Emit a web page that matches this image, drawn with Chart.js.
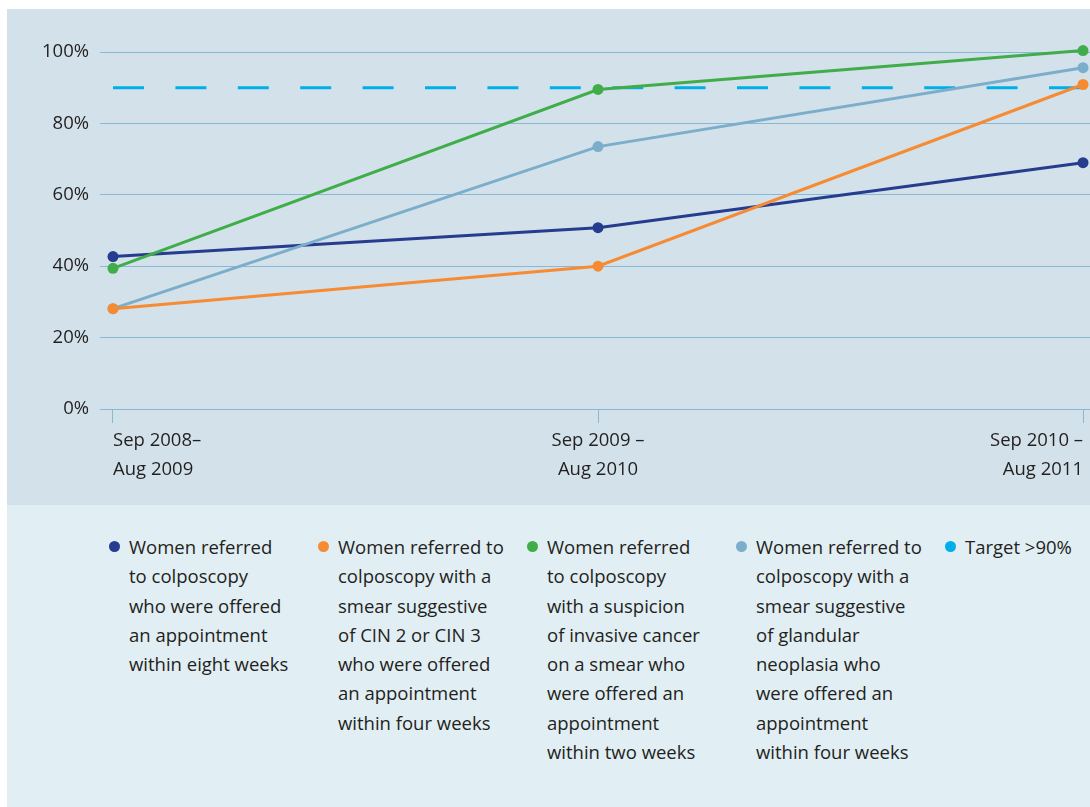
<!DOCTYPE html>
<html>
<head>
<meta charset="utf-8">
<script src="https://cdn.jsdelivr.net/npm/chart.js@4/dist/chart.umd.min.js"></script>
<style>
  body { margin: 0; background: #ffffff; font-family: "Open Sans", sans-serif; }
  #wrap { position: absolute; left: 7px; top: 9px; width: 1083px; height: 798px; }
  #top { position: relative; width: 1083px; height: 496px; background: #d3e2ea; }
  #legend { height: 302px; background: #e1eef4; display: flex; padding-left: 102px; padding-top: 27px; box-sizing: border-box; overflow: hidden; }
  .item { width: 209px; flex: none; display: flex; align-items: flex-start; color: #231f20; font-size: 18.5px; line-height: 29.3px; }
  .dot { width: 11px; height: 11px; border-radius: 50%; margin-top: 9px; margin-right: 9px; flex: none; }
</style>
</head>
<body>
<div id="wrap">
  <div id="top"><canvas id="myChart"></canvas></div>
  <div id="legend"></div>
</div>
<script>
"use strict";

var categories = [["Sep 2008\u2013", "Aug 2009"], ["Sep 2009 \u2013", "Aug 2010"], ["Sep 2010 \u2013", "Aug 2011"]];
var eightWeeks = [42.7, 50.8, 69.0];
var cin23FourWeeks = [28.1, 40.0, 90.9];
var invasiveTwoWeeks = [39.4, 89.5, 100.4];
var glandularFourWeeks = [28.1, 73.5, 95.6];
var target = [90, 90, 90];
var yTicks = [0, 20, 40, 60, 80, 100];

var legendLabels = [
  ["Women referred", "to colposcopy", "who were offered", "an appointment", "within eight weeks"],
  ["Women referred to", "colposcopy with a", "smear suggestive", "of CIN 2 or CIN 3", "who were offered", "an appointment", "within four weeks"],
  ["Women referred", "to colposcopy", "with a suspicion", "of invasive cancer", "on a smear who", "were offered an", "appointment", "within two weeks"],
  ["Women referred to", "colposcopy with a", "smear suggestive", "of glandular", "neoplasia who", "were offered an", "appointment", "within four weeks"],
  ["Target >90%"]
];

var gridColor = "#88b8d4";
var textColor = "#231f20";

// turn a plain list into x/y points so the x axis can be linear
function toPoints(values) {
  return values.map(function (v, i) {
    return { x: i, y: v };
  });
}

function lineSet(label, values, color, order) {
  return {
    label: label,
    data: toPoints(values),
    borderColor: color,
    backgroundColor: color,
    pointBackgroundColor: color,
    borderWidth: 3,
    pointRadius: 5.5,
    pointHoverRadius: 5.5,
    pointBorderWidth: 0,
    clip: false,
    order: order
  };
}

var datasets = [
  lineSet(legendLabels[0].join(" "), eightWeeks, "#253c8f", 4),
  lineSet(legendLabels[1].join(" "), cin23FourWeeks, "#f68b33", 2),
  lineSet(legendLabels[2].join(" "), invasiveTwoWeeks, "#40ad4a", 1),
  lineSet(legendLabels[3].join(" "), glandularFourWeeks, "#7caecc", 3),
  {
    label: legendLabels[4].join(" "),
    data: toPoints(target),
    borderColor: "#00aeea",
    backgroundColor: "#00aeea",
    borderWidth: 3,
    borderDash: [31, 31.4],
    pointRadius: 0,
    clip: false,
    order: 5
  }
];

var ctx = document.getElementById("myChart").getContext("2d");
var myChart = new Chart(ctx, {
  type: "line",
  data: { datasets: datasets },
  options: {
    responsive: true,
    maintainAspectRatio: false,
    animation: false,
    layout: { autoPadding: false, padding: { top: 43, right: 0, left: 0, bottom: 0 } },
    plugins: { legend: { display: false }, tooltip: { enabled: false } },
    scales: {
      x: {
        type: "linear",
        min: -0.0268,
        max: 2.0144,
        afterBuildTicks: function (scale) {
          scale.ticks = categories.map(function (c, i) {
            return { value: i };
          });
        },
        afterFit: function (scale) {
          scale.height = 96;
          scale.paddingLeft = 0;
          scale.paddingRight = 0;
        },
        border: { display: false },
        grid: {
          drawOnChartArea: false,
          drawTicks: true,
          tickLength: 14,
          color: gridColor,
          lineWidth: 1
        },
        ticks: {
          align: "inner",
          maxRotation: 0,
          autoSkip: false,
          padding: 3,
          color: textColor,
          font: { family: "Open Sans", size: 18.5, lineHeight: 1.57 },
          callback: function (value) {
            return categories[value];
          }
        }
      },
      y: {
        min: 0,
        max: 100,
        afterBuildTicks: function (scale) {
          scale.ticks = yTicks.map(function (v) {
            return { value: v };
          });
        },
        afterFit: function (scale) {
          scale.width = 93;
        },
        border: { display: false },
        grid: { color: gridColor, lineWidth: 1, drawTicks: false },
        ticks: {
          padding: 11,
          color: textColor,
          font: { family: "Open Sans", size: 18.5 },
          callback: function (value) {
            return value + "%";
          }
        }
      }
    }
  }
});

// html legend under the chart, one column per series
var legendEl = document.getElementById("legend");
datasets.forEach(function (ds, i) {
  var item = document.createElement("div");
  item.className = "item";
  var dot = document.createElement("span");
  dot.className = "dot";
  dot.style.background = ds.borderColor;
  var text = document.createElement("div");
  text.innerHTML = legendLabels[i].join("<br>");
  item.appendChild(dot);
  item.appendChild(text);
  legendEl.appendChild(item);
});
</script>
</body>
</html>
